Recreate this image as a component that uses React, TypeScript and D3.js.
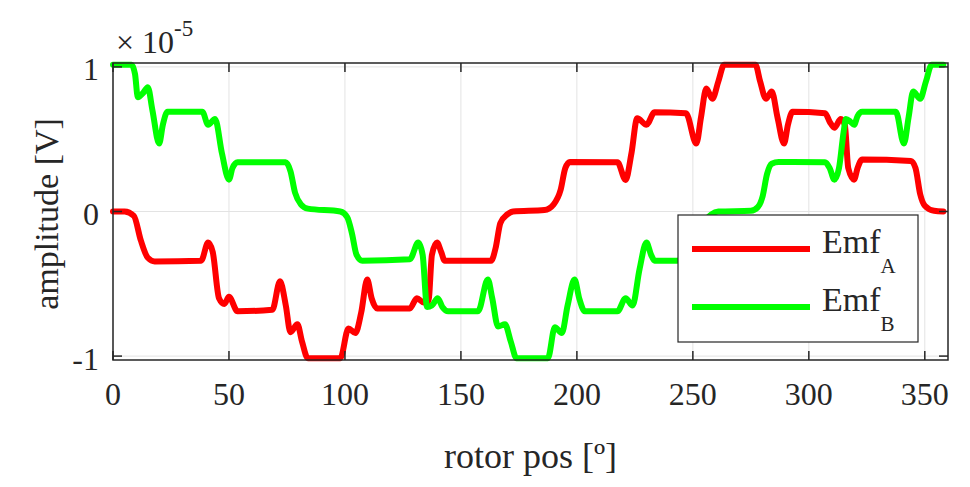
import { useEffect, useRef } from 'react';
import * as d3 from 'd3';

// rotor position [deg], amplitude in units of 1e-5 V
const emfA: [number, number][] = [
  [0, 0], [5, 0], [9, -0.03], [12, -0.2], [15, -0.32], [18, -0.345], [38, -0.34],
  [41, -0.215], [43, -0.28], [45.7, -0.6], [48, -0.64], [50, -0.59], [53.7, -0.69],
  [68.7, -0.68], [72, -0.483], [74.5, -0.65], [76.5, -0.835], [79.5, -0.78], [81.5, -0.9],
  [84, -1.015], [98, -1.015], [101.5, -0.81], [104.5, -0.84], [107, -0.7], [109.6, -0.47],
  [111.5, -0.6], [113.9, -0.67], [128, -0.67], [131, -0.6], [134, -0.63], [136, -0.62],
  [137.5, -0.3], [139.7, -0.215], [141.5, -0.28], [143, -0.34], [163, -0.34], [165, -0.25],
  [167, -0.08], [170, -0.02], [172.5, 0], [186, 0.01], [190, 0.05], [193, 0.15], [195, 0.3],
  [197, 0.342], [217.5, 0.34], [221, 0.218], [223.5, 0.4], [226, 0.645], [230, 0.6],
  [233.5, 0.686], [247, 0.68], [251.5, 0.47], [253.5, 0.65], [255.8, 0.85], [258.4, 0.78],
  [261, 0.9], [263.5, 1.015], [277, 1.015], [279, 0.9], [281.5, 0.78], [284, 0.83],
  [286.5, 0.65], [289.3, 0.47], [291, 0.6], [293, 0.69], [307, 0.68], [309, 0.62],
  [311, 0.58], [313.8, 0.64], [315.5, 0.6], [317, 0.3], [319.5, 0.22], [321, 0.3],
  [323, 0.36], [344, 0.35], [346, 0.3], [348, 0.12], [350, 0.04], [354, 0.005], [358, 0],
];

const emfB: [number, number][] = [
  [0, 1.015], [8, 1.015], [9.5, 0.95], [10.7, 0.79], [13, 0.82], [15, 0.86], [17, 0.7],
  [19.9, 0.47], [21.5, 0.6], [23.5, 0.69], [38.5, 0.69], [41, 0.6], [44, 0.64], [47, 0.4],
  [50, 0.22], [51.5, 0.3], [53.7, 0.34], [74.4, 0.34], [76.5, 0.28], [78.5, 0.13],
  [81, 0.05], [84, 0.02], [98, 0], [101, -0.04], [103, -0.15], [105, -0.3], [107.5, -0.34],
  [128, -0.33], [131.6, -0.215], [133.5, -0.3], [135.4, -0.66], [137.5, -0.65], [140, -0.6],
  [142, -0.66], [144.5, -0.69], [157.4, -0.69], [161.6, -0.47], [163.5, -0.6], [166, -0.795],
  [169, -0.78], [171.5, -0.9], [174, -1.015], [187.5, -1.015], [190.5, -0.8], [193.5, -0.84],
  [196, -0.65], [199, -0.47], [201, -0.6], [203.4, -0.69], [217.5, -0.69], [221, -0.6],
  [224, -0.65], [227, -0.4], [230, -0.215], [232, -0.3], [233.5, -0.34], [243, -0.34],
  [250, -0.3], [254, -0.1], [258, -0.02], [261, 0], [275, 0.005], [278, 0.03], [280, 0.1],
  [282, 0.26], [284, 0.33], [287, 0.342], [307, 0.34], [309, 0.3], [311, 0.22], [313, 0.3],
  [315, 0.55], [316, 0.64], [318, 0.62], [319.5, 0.6], [321, 0.66], [323, 0.69],
  [337.5, 0.69], [341, 0.47], [343, 0.65], [345, 0.83], [348, 0.78], [350.5, 0.9],
  [353, 1.015], [358, 1.015],
];

const xTicks = [0, 50, 100, 150, 200, 250, 300, 350];
const yTicks = [-1, 0, 1];
const seriesNames = ['A', 'B'];
const seriesColors = ['#ff0000', '#00ff00'];

const FONT = "'Liberation Serif', 'Times New Roman', Times, 'DejaVu Serif', 'Noto Serif', serif";
const AXIS = '#262626';

const App = () => {
  const svgRef = useRef<SVGSVGElement>(null);

  useEffect(() => {
    const svg = d3.select(svgRef.current);
    svg.selectAll('*').remove();

    const width = 970;
    const height = 487;
    const box = { left: 113, right: 948, top: 63, bottom: 360 };

    const x = d3.scaleLinear().domain([0, 360]).range([box.left, box.right]);
    const y = d3.scaleLinear().domain([-1.027, 1.027]).range([box.bottom, box.top]);

    svg.attr('width', width).attr('height', height);
    svg.append('rect').attr('width', width).attr('height', height).attr('fill', '#fff');

    // grid
    const grid = svg.append('g').attr('stroke', '#e3e3e3').attr('stroke-width', 1);
    xTicks.forEach((t) => {
      grid.append('line').attr('x1', x(t)).attr('x2', x(t)).attr('y1', box.top).attr('y2', box.bottom);
    });
    yTicks.forEach((t) => {
      grid.append('line').attr('y1', y(t)).attr('y2', y(t)).attr('x1', box.left).attr('x2', box.right);
    });

    // curves
    const line = d3
      .line<[number, number]>()
      .x((d) => x(d[0]))
      .y((d) => y(d[1]))
      .curve(d3.curveMonotoneX);

    [emfA, emfB].forEach((data, i) => {
      svg
        .append('path')
        .datum(data)
        .attr('d', line)
        .attr('fill', 'none')
        .attr('stroke', seriesColors[i])
        .attr('stroke-width', 6)
        .attr('stroke-linejoin', 'round')
        .attr('stroke-linecap', 'round');
    });

    // box + inward ticks
    const ax = svg.append('g').attr('stroke', AXIS).attr('stroke-width', 1.5).attr('fill', 'none');
    ax.append('rect')
      .attr('x', box.left)
      .attr('y', box.top)
      .attr('width', box.right - box.left)
      .attr('height', box.bottom - box.top);
    const tl = 9;
    xTicks.forEach((t) => {
      ax.append('line').attr('x1', x(t)).attr('x2', x(t)).attr('y1', box.bottom).attr('y2', box.bottom - tl);
      ax.append('line').attr('x1', x(t)).attr('x2', x(t)).attr('y1', box.top).attr('y2', box.top + tl);
    });
    yTicks.forEach((t) => {
      ax.append('line').attr('y1', y(t)).attr('y2', y(t)).attr('x1', box.left).attr('x2', box.left + tl);
      ax.append('line').attr('y1', y(t)).attr('y2', y(t)).attr('x1', box.right).attr('x2', box.right - tl);
    });

    // tick labels
    const txt = svg.append('g').style('font-family', FONT).attr('fill', AXIS);
    xTicks.forEach((t) => {
      txt.append('text')
        .attr('x', x(t))
        .attr('y', 405)
        .attr('text-anchor', 'middle')
        .attr('font-size', 32)
        .text(t);
    });
    yTicks.forEach((t) => {
      txt.append('text')
        .attr('x', 99)
        .attr('y', y(t) + 13.5)
        .attr('text-anchor', 'end')
        .attr('font-size', 32)
        .text(t);
    });

    // exponent
    const exp = txt.append('text').attr('x', 116).attr('y', 53).attr('font-size', 32);
    exp.append('tspan').text('× 10');
    exp.append('tspan').attr('font-size', 23).attr('dy', -17).text('-5');

    // axis labels
    txt.append('text')
      .attr('x', (box.left + box.right) / 2)
      .attr('y', 468)
      .attr('text-anchor', 'middle')
      .attr('font-size', 36)
      .text('rotor pos [º]');
    txt.append('text')
      .attr('transform', `translate(58,214) rotate(-90)`)
      .attr('text-anchor', 'middle')
      .attr('font-size', 34)
      .text('amplitude [V]');

    // legend
    const lg = svg.append('g');
    lg.append('rect')
      .attr('x', 678)
      .attr('y', 215)
      .attr('width', 240)
      .attr('height', 127)
      .attr('fill', '#fff')
      .attr('stroke', AXIS)
      .attr('stroke-width', 1.2);
    seriesNames.forEach((name, i) => {
      const ly = 249 + i * 58;
      lg.append('line')
        .attr('x1', 692)
        .attr('x2', 810)
        .attr('y1', ly)
        .attr('y2', ly)
        .attr('stroke', seriesColors[i])
        .attr('stroke-width', 6);
      const t = lg.append('text')
        .attr('x', 822)
        .attr('y', ly + 4)
        .style('font-family', FONT)
        .attr('font-size', 34)
        .attr('fill', AXIS);
      t.append('tspan').text('Emf');
      t.append('tspan').attr('font-size', 21).attr('dy', 20).text(name);
    });
  }, []);

  return (
    <svg
      ref={svgRef}
      style={{ position: 'absolute', left: 0, top: 0, display: 'block' }}
      width={970}
      height={487}
    ></svg>
  );
};

export default App;
